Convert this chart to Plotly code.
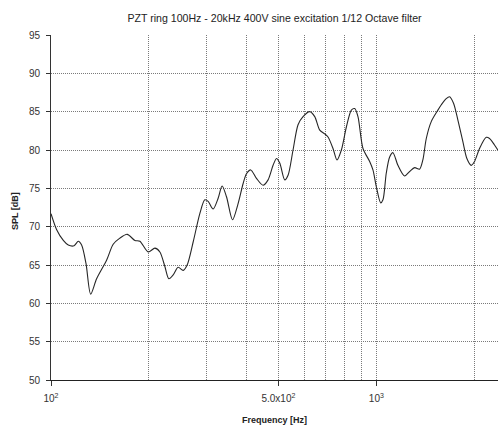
import math
import plotly.graph_objects as go

freq_hz = [100, 104.1, 109.1, 113.0, 117.7, 121.3, 124.2, 128.1, 132.4, 138.1,
           148.3, 155.3, 162.8, 171.5, 181.1, 187.6, 199.0, 208.6, 216.1, 223.9,
           230.3, 237.4, 245.9, 254.8, 262.1, 273.5, 286.7, 297.0, 304.1, 315.0,
           326.4, 335.7, 346.3, 361.4, 375.9, 389.4, 398.9, 411.2, 428.1, 448.6,
           464.8, 481.5, 493.2, 504.8, 523.0, 535.4, 554.6, 574.6, 595.3, 624.1,
           646.6, 669.9, 694.0, 710.4, 735.9, 756.9, 780.8, 808.9, 838.0, 857.9,
           878.1, 909.8, 953.9, 976.3, 1000, 1031, 1048, 1073, 1099, 1125,
           1165, 1221, 1266, 1312, 1358, 1390, 1424, 1475, 1546, 1584,
           1640, 1679, 1727, 1781, 1845, 1898, 1958, 2004, 2076, 2177,
           2228, 2308, 2363]
spl_db = [71.7, 69.6, 68.2, 67.6, 67.5, 68.1, 67.6, 65.2, 61.2, 63.2,
          65.65, 67.7, 68.5, 69.0, 68.2, 68.1, 66.7, 67.2, 66.7, 64.8,
          63.2, 63.7, 64.7, 64.3, 65.0, 68.0, 71.7, 73.5, 73.3, 72.3,
          73.7, 75.3, 73.9, 70.9, 73.0, 75.6, 76.9, 77.4, 76.3, 75.4,
          76.1, 78.0, 78.9, 78.3, 76.1, 76.7, 80.0, 83.3, 84.35, 85.0,
          84.35, 82.6, 82.1, 81.7, 80.2, 78.7, 80.0, 83.0, 85.2, 85.4,
          84.35, 80.2, 78.5, 77.4, 75.2, 73.1, 73.5, 77.0, 79.1, 79.65,
          78.0, 76.6, 77.2, 77.7, 77.5, 78.7, 81.5, 83.7, 85.2, 85.9,
          86.7, 86.95, 86.1, 83.9, 81.1, 78.9, 78.0, 78.5, 80.2, 81.65,
          81.5, 80.65, 80.0]

x_tick_vals = [100, 500, 1000]
x_tick_text = ["10<sup>2</sup>", "5.0x10<sup>2</sup>", "10<sup>3</sup>"]
x_minor_vals = [200, 300, 400, 600, 700, 800, 900, 2000]
y_tick_vals = [50, 55, 60, 65, 70, 75, 80, 85, 90, 95]

title_text = "PZT ring 100Hz - 20kHz 400V sine excitation 1/12 Octave filter"
x_title = "Frequency [Hz]"
y_title = "SPL [dB]"

FONT = "Liberation Sans, Arial, sans-serif"
GRID = "#7a7a7a"
DASH = "1px,1px"

fig = go.Figure()
fig.add_trace(go.Scatter(x=freq_hz, y=spl_db, mode="lines",
                         line=dict(color="#262626", width=1.1, shape="spline", smoothing=0.8),
                         hoverinfo="skip", showlegend=False))

fig.update_layout(
    width=498, height=426,
    margin=dict(l=51, r=0, t=35, b=46),
    paper_bgcolor="white", plot_bgcolor="white",
    font=dict(family=FONT, size=10, color="#333333"),
    title=dict(text=title_text, x=0.5, xref="paper", y=1 - 18 / 426, yref="container",
               xanchor="center", yanchor="middle", font=dict(size=10.6, color="#222222")),
    showlegend=False,
)
fig.update_xaxes(
    type="log", range=[2, math.log10(2363) + 0.0005],
    tickmode="array", tickvals=x_tick_vals, ticktext=x_tick_text,
    ticks="outside", ticklen=5, tickcolor="#333333", tickwidth=1,
    ticklabelstandoff=4,
    showgrid=True, gridcolor=GRID, griddash=DASH, gridwidth=1,
    minor=dict(tickmode="array", tickvals=x_minor_vals, showgrid=True,
               gridcolor=GRID, griddash=DASH, gridwidth=1, ticks=""),
    showline=True, linecolor="#222222", linewidth=1,
    zeroline=False, tickfont=dict(size=10, color="#333333"),
)
fig.update_yaxes(
    range=[50, 95], tickmode="array", tickvals=y_tick_vals,
    ticks="outside", ticklen=4, tickcolor="#333333", tickwidth=1,
    ticklabelstandoff=4,
    showgrid=True, gridcolor=GRID, griddash=DASH, gridwidth=1,
    showline=True, linecolor="#333333", linewidth=1,
    zeroline=False, tickfont=dict(size=10, color="#333333"),
)
fig.add_annotation(text="<b>" + x_title + "</b>", xref="paper", yref="paper",
                   x=0.5, y=-(420 - 380) / 345, xanchor="center", yanchor="middle",
                   showarrow=False, font=dict(size=9, color="#222222"))
fig.add_annotation(text="<b>" + y_title + "</b>", xref="paper", yref="paper",
                   x=-(51 - 15) / 447, y=1 - (211 - 35) / 345, xanchor="center", yanchor="middle",
                   textangle=-90, showarrow=False, font=dict(size=9, color="#222222"))

fig.write_html("out.html",
               config={"displayModeBar": False},
               post_script="document.body.style.margin='0';"
                           "document.body.style.overflow='hidden';"
                           "document.documentElement.style.overflow='hidden';")
